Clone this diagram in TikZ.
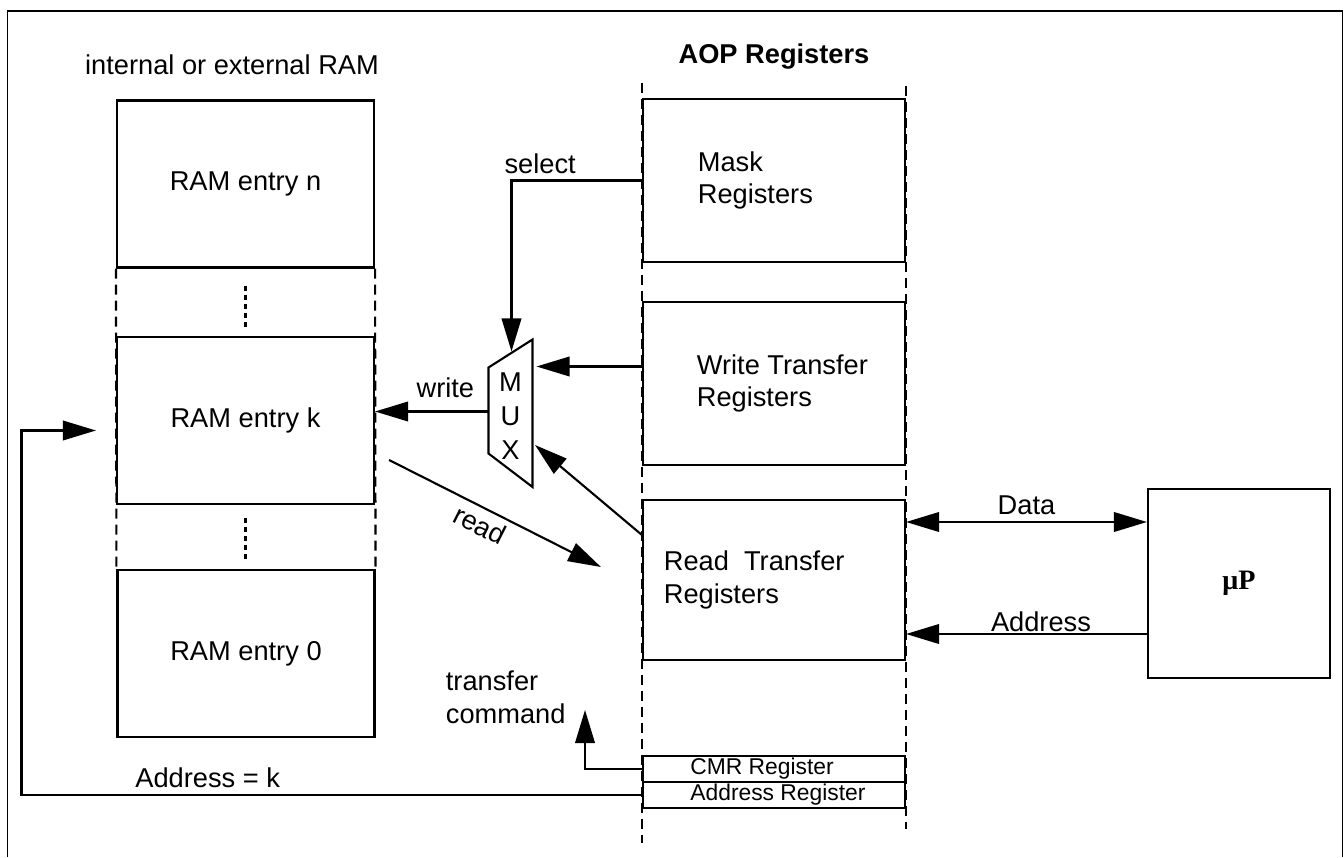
\documentclass[tikz,border=0pt]{standalone}
\usepackage{fontspec}
\setmainfont{Liberation Sans}
\newfontfamily\upfont{Liberation Serif}
\usetikzlibrary{arrows.meta, positioning}

\newcommand{\diagfont}{\fontsize{15.5}{18.6}\selectfont}
\newcommand{\regfont}{\fontsize{13}{15.6}\selectfont}

\tikzset{
  ramcell/.style={draw, minimum width=51.4mm, minimum height=33.4mm},
  aopreg/.style={draw, minimum width=52.4mm, minimum height=32.6mm},
  slimreg/.style={draw, minimum width=52.4mm, minimum height=5.2mm, inner sep=0pt},
  regtext/.style={align=left, anchor=west},
  boundary/.style={dash pattern=on 2mm off 1.2mm},
  ramgap/.style={dash pattern=on 1mm off 0.8mm},
}

\begin{document}
\begin{tikzpicture}[x=1mm, y=1mm, line width=1.2pt, font=\diagfont,
    >={Triangle[length=6.6mm, width=3.9mm]}]
  \useasboundingbox (0,0) rectangle (268.8,171.4);
  \draw[line width=0.6pt] (1.5,0) -- (1.5,169.2) -- (268.5,169.2) -- (268.5,0);

  % RAM side
  \node (ramtitle) at (46.4,158.4) {internal or external RAM};
  \node[ramcell] (ramn) at (49.1,134.6) {RAM entry n};
  \node[ramcell] (ramk) at (49.1,87.3) {RAM entry k};
  \node[ramcell] (ram0) at (49.2,40.7) {RAM entry 0};
  \draw[boundary] (ramn.south west) -- (ram0.north west);
  \draw[boundary] (ramn.south east) -- (ram0.north east);
  \draw[ramgap] (ramn.south) ++(0,-3.4) -- ++(0,-8.4);
  \draw[ramgap] (ramk.south) ++(0,-2.6) -- ++(0,-8.2);

  % AOP registers
  \node[font=\diagfont\bfseries] (aoptitle) at (154.8,160) {AOP Registers};
  \node[aopreg] (maskreg) at (154.8,135.3) {};
  \node[aopreg] (wrtreg) at (154.8,94.7) {};
  \node[aopreg, minimum height=32mm] (rdreg) at (154.8,55.4) {};
  \node[slimreg] (cmrreg) at (154.8,17.6) {};
  \node[slimreg] (addrreg) at (154.8,12.4) {};
  \node[regtext, right=9.8mm of maskreg.west] (masktxt) {Mask\\Registers};
  \node[regtext, right=9.6mm of wrtreg.west] (wrttxt) {Write Transfer\\Registers};
  \node[regtext, right=3mm of rdreg.west] (rdtxt) {Read~~Transfer\\Registers};
  \node[regtext, font=\regfont, right=8.3mm of cmrreg.west] (cmrtxt) {CMR Register};
  \node[regtext, font=\regfont, right=8.3mm of addrreg.west] (addrtxt) {Address Register};
  \draw[boundary] ([yshift=3mm]maskreg.north west) -- ([yshift=-6.8mm]addrreg.south west);
  \draw[boundary] ([yshift=2.4mm]maskreg.north east) -- ([yshift=-4mm]addrreg.south east);

  % processor
  \node[draw, minimum width=36.4mm, minimum height=37.8mm,
    font=\upfont\bfseries\fontsize{16}{19}\selectfont] (mup) at (247.8,54.7) {μP};

  % multiplexer
  \draw (97.7,97.9) -- (106.5,103.5) -- (106.5,74) -- (97.7,80.7) -- cycle;
  \node[align=center, font=\fontsize{15.5}{19.2}\selectfont] (mux) at (102.1,88.2) {M\\U\\X};
  \coordinate (muxsel) at (102.3,101.1);
  \coordinate (muxin) at (107.3,98.1);
  \coordinate (muxrd) at (107,82.4);
  \coordinate (muxout) at (97.7,89.1);
  \coordinate (ramin) at ([shift={(-4,-2)}]ramk.west);
  \coordinate (cmdtip) at (117,29.4);
  \coordinate (dataL) at ([yshift=11.6mm]rdreg.east);
  \coordinate (addrL) at ([yshift=-10.8mm]rdreg.east);

  \draw[->] (maskreg.west) -| (muxsel) node[pos=0.39, above] {select};
  \draw[->] ([yshift=3.4mm]wrtreg.west) -- (muxin);
  \draw[->] ([yshift=9mm]rdreg.west) -- (muxrd);
  \draw[->] (muxout) -- (ramk.east |- muxout) node[pos=0.38, above, yshift=1.4mm] {write};
  \draw[->] ([shift={(2.8,-7.9)}]ramk.east) -- ([shift={(-8.2,2.6)}]rdreg.west)
    node[pos=0.465, below, sloped] {read};
  \draw[<->] (dataL) -- (dataL -| mup.west) node[midway, above] {Data};
  \draw[<-] (addrL) -- (addrL -| mup.west) node[pos=0.56, above, yshift=-1mm] {Address};

  % transfer command and address loop
  \draw[->] (cmrreg.west) -| (cmdtip);
  \node[regtext] (cmdtxt) at (87.8,32) {transfer\\command};
  \draw[->] (addrreg.west) -| (4.3,85.3) node[pos=0.35, above] {Address = k} -- (ramin);
\end{tikzpicture}
\end{document}
